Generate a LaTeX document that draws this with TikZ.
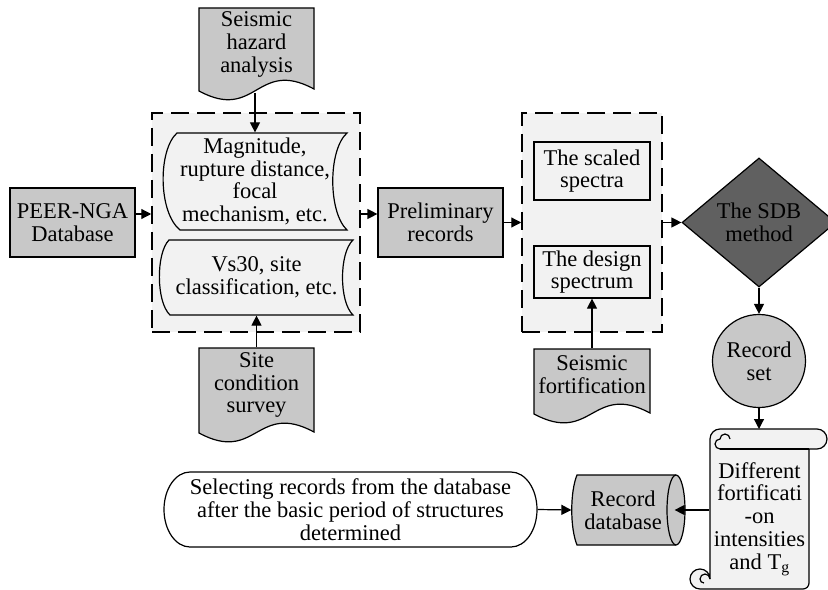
\documentclass[tikz,border=0pt]{standalone}
\usepackage{fontspec}
\setmainfont{Liberation Serif}
\usetikzlibrary{shapes.geometric,arrows.meta}
\definecolor{boxgray}{HTML}{C8C8C8}
\definecolor{lightfill}{HTML}{F2F2F2}
\definecolor{darkfill}{HTML}{606060}
\begin{document}
\begin{tikzpicture}[x=1bp,y=-1bp,
  every node/.style={font={\fontsize{22.5bp}{22.7bp}\selectfont}, align=center, inner sep=0pt},
  line width=1.2bp,
  arr/.style={-{Triangle[length=10bp,width=10bp]}, line width=1.2bp},
  graybox/.style={draw, fill=boxgray, rectangle},
  lightbox/.style={draw, fill=lightfill, rectangle},
  container/.style={draw, line width=1.5bp, dash pattern=on 18bp off 8bp, fill=lightfill, rectangle},
  textonly/.style={rectangle, draw=none},
]
\useasboundingbox (0,0) rectangle (828,590);

% containers
\node[container, minimum width=208bp, minimum height=219bp] (cont1) at (256,222.5) {};
\node[container, minimum width=140bp, minimum height=219bp] (cont2) at (592,222.5) {};

% PEER-NGA
\node[graybox, minimum width=125bp, minimum height=69bp] (peer) at (72.5,222.5) {PEER-NGA\\Database};

% Seismic hazard analysis (document)
\draw[fill=boxgray] (199,91) -- (199,8) -- (314,8) -- (314,89) .. controls (256.5,58) and (256.5,122) .. (199,91) -- cycle;
\node[textonly, minimum width=115bp, minimum height=70bp] (haz) at (256.5,44.5) {Seismic\\hazard\\analysis};
\coordinate (hazb) at (255,93);

% Magnitude (stored data)
\draw[fill=lightfill] (177,133) -- (347,133) .. controls (328,150) and (328,212) .. (347,230) -- (180,230) .. controls (158,212) and (158,150) .. (177,133) -- cycle;
\node[textonly, minimum width=184bp, minimum height=97bp] (mag) at (255,181.5) {Magnitude,\\rupture distance,\\focal\\mechanism, etc.};

% Vs30 (stored data)
\draw[fill=lightfill] (169,240) -- (353,240) .. controls (339,253) and (339,302) .. (353,315) -- (170,315) .. controls (156,302) and (156,253) .. (169,240) -- cycle;
\node[textonly, minimum width=184bp, minimum height=75bp] (vs30) at (256.5,277.5) {Vs30, site\\classification, etc.};

% Site condition survey (document)
\draw[fill=boxgray] (199,433) -- (199,348) -- (314,348) -- (314,432) .. controls (256.5,401) and (256.5,464) .. (199,433) -- cycle;
\node[textonly, minimum width=115bp, minimum height=74bp] (site) at (256.5,385) {Site\\condition\\survey};

% Preliminary records
\node[graybox, minimum width=125bp, minimum height=69bp] (prelim) at (440.5,222.5) {Preliminary\\records};

% spectra boxes
\node[lightbox, minimum width=116bp, minimum height=58bp] (scaled) at (592,171) {The scaled\\spectra};
\node[lightbox, minimum width=116bp, minimum height=52bp] (design) at (592,272) {The design\\spectrum};

% Seismic fortification (document)
\draw[fill=boxgray] (534,414) -- (534,349) -- (650,349) -- (650,413) .. controls (592,382) and (592,445) .. (534,414) -- cycle;
\node[textonly, minimum width=116bp, minimum height=52bp] (fort) at (592,375) {Seismic\\fortification};

% SDB method
\node[diamond, draw, fill=darkfill, aspect=1.19, minimum width=154bp, minimum height=129bp] (sdb) at (759,222.5) {The SDB\\method};

% Record set
\node[circle, draw, fill=boxgray, minimum size=93bp] (recset) at (759,361) {Record\\set};

% Scroll
\draw[fill=lightfill] (710,439) arc[start angle=180,end angle=270,radius=10] -- (817,429) arc[start angle=-90,end angle=90,radius=10] -- (809,449) -- (809,583) arc[start angle=0,end angle=90,radius=6] -- (700,589) arc[start angle=90,end angle=360,radius=10] -- cycle;
\draw (720,449) -- (809,449);
\draw (720,449) arc[start angle=90,end angle=270,radius=5] arc[start angle=180,end angle=360,radius=5];
\draw (710,579) arc[start angle=0,end angle=-180,radius=5] arc[start angle=180,end angle=90,radius=4];
\node[textonly, minimum width=99bp, minimum height=140bp] (scroll) at (759.5,519) {Different\\fortificati\\-on\\intensities\\and T\textsubscript{g}};
\coordinate (scrolltop) at (759,429);

% Record database (horizontal cylinder)
\draw[fill=boxgray] (577,475) -- (676,475) arc[start angle=-90,end angle=90,x radius=9,y radius=35] -- (577,545) .. controls (570,528) and (570,492) .. (577,475) -- cycle;
\draw (676,475) arc[start angle=-90,end angle=-270,x radius=9,y radius=35];
\node[textonly, minimum width=102bp, minimum height=70bp] (recdb) at (623,510) {Record\\database};

% Selecting records (terminator)
\draw[fill=white] (190,472) -- (511,472) arc[start angle=-90,end angle=90,x radius=26,y radius=37.5] -- (190,547) arc[start angle=90,end angle=270,x radius=26,y radius=37.5] -- cycle;
\node[textonly, minimum width=373bp, minimum height=75bp] (oval) at (350.5,509.5) {Selecting records from the database\\after the basic period of structures\\determined};

% connectors
\draw[arr] (hazb) -- (mag.north);
\draw[arr] (site.north) -- (vs30.south);
\draw[arr] ([yshift=8.5bp]peer.east) -- ([yshift=8.5bp]peer.east -| cont1.west);
\draw[arr] ([yshift=8.5bp]cont1.east) -- ([yshift=8.5bp]cont1.east -| prelim.west);
\draw[arr] (prelim.east) -- (cont2.west);
\draw[arr] (fort.north) -- (design.south);
\draw[arr] (cont2.east) -- (sdb.west);
\draw[arr] (sdb.south) -- (recset.north);
\draw[arr] (recset.south) -- (scrolltop);
\draw[arr] (scroll.west |- recdb.east) -- (recdb.east);
\draw[arr] (oval.east) -- (recdb.west);
\end{tikzpicture}
\end{document}
